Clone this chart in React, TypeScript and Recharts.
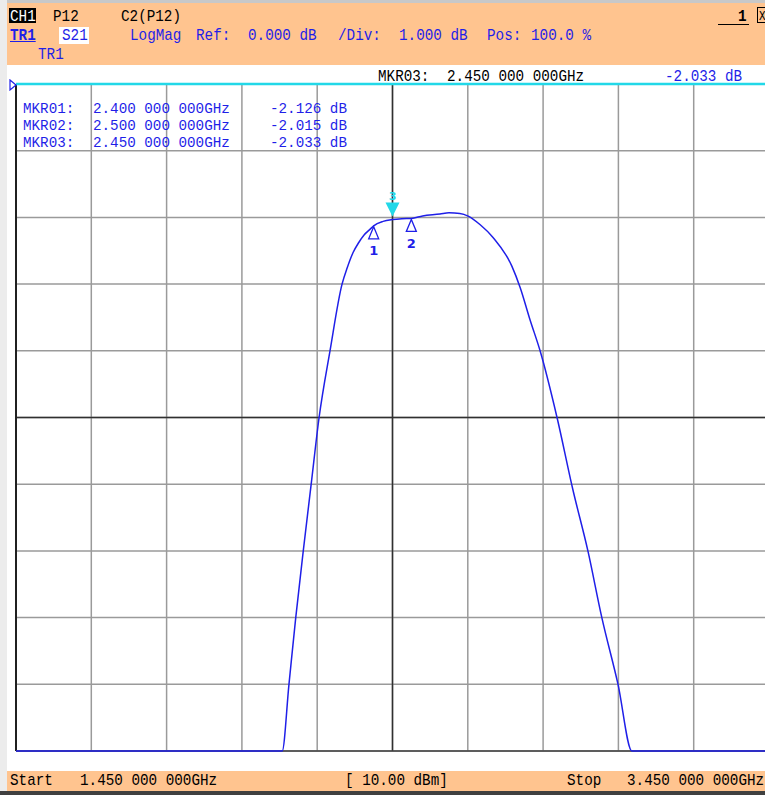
import React from 'react';
import { LineChart, Line, XAxis, YAxis, CartesianGrid, ReferenceLine, ReferenceDot } from 'recharts';

// S21 trace (GHz, dB)
const freqGHz = [
  1.45, 2.157, 2.175, 2.193, 2.213, 2.234, 2.255, 2.284, 2.316, 2.33, 2.345, 2.36,
  2.375, 2.39, 2.4, 2.425, 2.45, 2.475, 2.5, 2.53, 2.576, 2.6, 2.629, 2.651,
  2.683, 2.717, 2.767, 2.789, 2.815, 2.842, 2.887, 2.929, 2.969, 3.006, 3.049, 3.086, 3.45,
];
const s21dB = [
  -10, -10, -9, -8, -7, -6, -5, -4, -3, -2.75, -2.53, -2.38,
  -2.26, -2.18, -2.126, -2.06, -2.033, -2.02, -2.015, -1.98, -1.95, -1.93, -1.94, -1.98,
  -2.11, -2.3, -2.73, -3.05, -3.53, -4.0, -5.0, -6.08, -7.0, -8.0, -9.0, -10, -10,
];

const xTicks = [1.45, 1.65, 1.85, 2.05, 2.25, 2.45, 2.65, 2.85, 3.05, 3.25, 3.45];
const yTicks = [0, -1, -2, -3, -4, -5, -6, -7, -8, -9, -10];

const markerNames = ['MKR01:', 'MKR02:', 'MKR03:'];
const markerFreqText = ['2.400 000 000GHz', '2.500 000 000GHz', '2.450 000 000GHz'];
const markerFreq = [2.4, 2.5, 2.45];
const markerVal = [-2.126, -2.015, -2.033];

const data = freqGHz.map((f, i) => ({ f, s21: s21dB[i] }));

const BLUE = '#1f1fe8';
const CYAN = '#22d8e8';
const ORANGE = '#ffc48f';

function Txt({ x, y, color = '#000', bold = false, small = false, children, style }: any) {
  return (
    <div
      style={{
        position: 'absolute',
        left: x,
        top: y + (small ? 1 : 1.5),
        fontFamily: '"Liberation Mono", "DejaVu Sans Mono", monospace',
        fontSize: small ? 15 : 17,
        lineHeight: small ? '13px' : '14px',
        whiteSpace: 'pre',
        color,
        fontWeight: bold ? 'bold' : 'normal',
        transform: small ? 'scaleX(0.95)' : 'scaleX(0.84)',
        transformOrigin: 'left top',
        ...style,
      }}
    >
      {children}
    </div>
  );
}

const openMarker = (label: string, labelDy: number) => (p: any) => (
  <g>
    <polygon
      points={`${p.cx},${p.cy + 1} ${p.cx - 5},${p.cy + 13} ${p.cx + 5},${p.cy + 13}`}
      fill="#fff"
      stroke={BLUE}
      strokeWidth={1.3}
    />
    <text x={p.cx} y={p.cy + labelDy} textAnchor="middle" fill={BLUE} fontSize={13} fontWeight="bold" fontFamily="DejaVu Sans, sans-serif">
      {label}
    </text>
  </g>
);

const activeMarker = (p: any) => (
  <g>
    <polygon points={`${p.cx},${p.cy - 3} ${p.cx - 7},${p.cy - 17} ${p.cx + 7},${p.cy - 17}`} fill={CYAN} />
    <text x={p.cx} y={p.cy - 20} textAnchor="middle" fill={CYAN} fontSize={11} fontWeight="bold" fontFamily="DejaVu Sans, sans-serif">
      3
    </text>
  </g>
);

export default function App() {
  return (
    <div style={{ position: 'absolute', left: 0, top: 0, width: 765, height: 795, overflow: 'hidden', background: '#fff' }}>
      {/* window chrome */}
      <div style={{ position: 'absolute', left: 0, top: 0, width: 765, height: 3, background: '#c8c8c8' }} />
      <div style={{ position: 'absolute', left: 0, top: 0, width: 7, height: 795, background: '#ececec' }} />
      <div style={{ position: 'absolute', left: 7, top: 3, width: 758, height: 62, background: ORANGE }} />
      <div style={{ position: 'absolute', left: 7, top: 771, width: 758, height: 20, background: ORANGE }} />
      <div style={{ position: 'absolute', left: 0, top: 791, width: 765, height: 4, background: '#404040' }} />

      <div style={{ position: 'absolute', left: 0, top: 0 }}>
        <LineChart width={780} height={795} data={data} margin={{ top: 84, right: 11, bottom: 44, left: 16 }}>
          <XAxis dataKey="f" type="number" domain={[1.45, 3.45]} ticks={xTicks} hide />
          <YAxis type="number" domain={[-10, 0]} ticks={yTicks} hide width={0} />
          <CartesianGrid stroke="#9a9a9a" strokeWidth={1.5} />
          <ReferenceLine x={2.45} stroke="#303030" strokeWidth={1.5} />
          <ReferenceLine y={-5} stroke="#303030" strokeWidth={1.5} />
          <ReferenceLine x={1.45} stroke="#202020" strokeWidth={2} />
          <ReferenceLine y={-10} stroke="#404040" strokeWidth={1.5} />
          <ReferenceLine y={0} stroke={CYAN} strokeWidth={2.5} />
          <Line dataKey="s21" type="monotone" stroke={BLUE} strokeWidth={1.5} dot={false} isAnimationActive={false} />
          <ReferenceDot x={markerFreq[0]} y={markerVal[0]} r={0} shape={openMarker('1', 29)} />
          <ReferenceDot x={markerFreq[1]} y={markerVal[1]} r={0} shape={openMarker('2', 30)} />
          <ReferenceDot x={markerFreq[2]} y={markerVal[2]} r={0} shape={activeMarker} />
        </LineChart>
      </div>

      {/* header */}
      <div style={{ position: 'absolute', left: 9, top: 8, width: 27, height: 15, background: '#000' }} />
      <Txt x={10} y={8} color="#fff">CH1</Txt>
      <Txt x={53} y={8}>P12</Txt>
      <Txt x={121} y={8}>C2(P12)</Txt>
      <Txt x={10} y={27} color={BLUE} bold style={{ textDecoration: 'underline' }}>TR1</Txt>
      <div style={{ position: 'absolute', left: 59, top: 27, width: 30, height: 17, background: '#fff' }} />
      <Txt x={62} y={27} color={BLUE}>S21</Txt>
      <Txt x={130} y={27} color={BLUE}>LogMag</Txt>
      <Txt x={196} y={27} color={BLUE}>Ref:</Txt>
      <Txt x={248} y={27} color={BLUE}>0.000 dB</Txt>
      <Txt x={338} y={27} color={BLUE}>/Div:</Txt>
      <Txt x={399} y={27} color={BLUE}>1.000 dB</Txt>
      <Txt x={487} y={27} color={BLUE}>Pos:</Txt>
      <Txt x={531} y={27} color={BLUE}>100.0 %</Txt>
      <Txt x={38} y={46} color={BLUE}>TR1</Txt>
      <Txt x={738} y={8} bold>1</Txt>
      <div style={{ position: 'absolute', left: 718, top: 24, width: 31, height: 1, background: '#000' }} />
      <div style={{ position: 'absolute', left: 757, top: 7, width: 12, height: 16, border: '1px solid #000', boxSizing: 'border-box' }} />
      <Txt x={759} y={8} style={{ fontSize: 13 }}>X</Txt>

      {/* active marker readout */}
      <Txt x={378} y={68}>MKR03:</Txt>
      <Txt x={447} y={68}>2.450 000 000GHz</Txt>
      <Txt x={665} y={68} color={BLUE}>-2.033 dB</Txt>
      <svg style={{ position: 'absolute', left: 9, top: 79 }} width={8} height={12}>
        <polygon points="1,1 7,6 1,11" fill="none" stroke={BLUE} strokeWidth={1.2} />
      </svg>

      {/* marker table */}
      {markerNames.map((n, i) => (
        <React.Fragment key={n}>
          <Txt small x={23} y={102 + i * 17} color={BLUE}>{n}</Txt>
          <Txt small x={93} y={102 + i * 17} color={BLUE}>{markerFreqText[i]}</Txt>
          <Txt small x={270} y={102 + i * 17} color={BLUE}>{markerVal[i].toFixed(3) + ' dB'}</Txt>
        </React.Fragment>
      ))}

      {/* status bar */}
      <Txt x={10} y={772}>Start</Txt>
      <Txt x={80} y={772}>1.450 000 000GHz</Txt>
      <Txt x={345} y={772}>[ 10.00 dBm]</Txt>
      <Txt x={567} y={772}>Stop</Txt>
      <Txt x={627} y={772}>3.450 000 000GHz</Txt>
    </div>
  );
}
